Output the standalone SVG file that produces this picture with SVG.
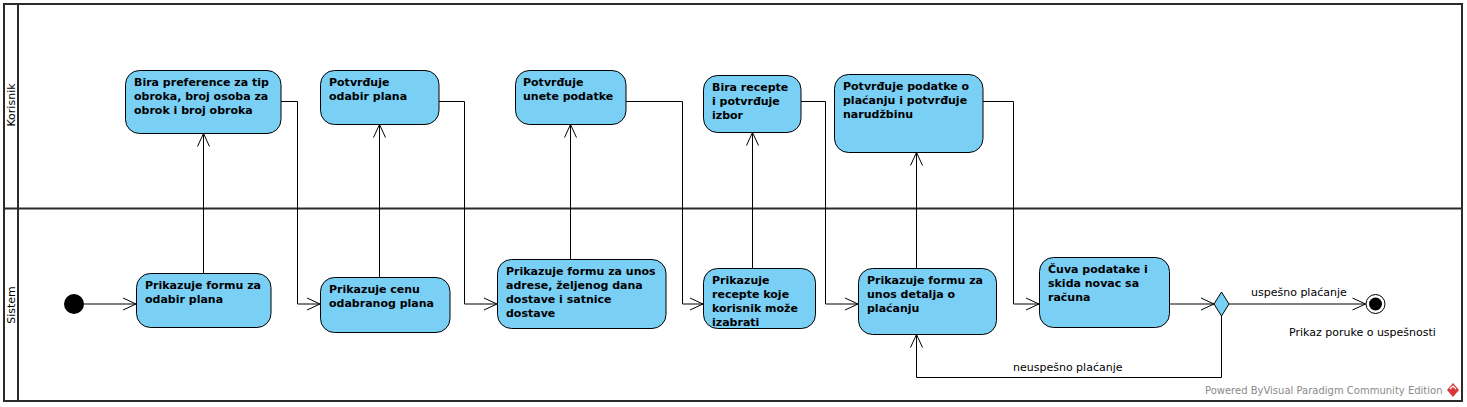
<svg xmlns="http://www.w3.org/2000/svg" width="1467" height="407" viewBox="0 0 1467 407">
<defs>
<style>
.frame{fill:none;stroke:#2b2b2b;stroke-width:2}
.act{fill:#7acff5;stroke:#000;stroke-width:1}
.t{font-family:"DejaVu Sans","Liberation Sans",sans-serif;font-size:11px;font-weight:bold;fill:#000}
.l{font-family:"DejaVu Sans","Liberation Sans",sans-serif;font-size:11px;fill:#000}
.wm{font-family:"DejaVu Sans","Liberation Sans",sans-serif;font-size:10px;fill:#8a8a8a}
.c{fill:none;stroke:#000;stroke-width:1}
</style>
<marker id="arr" markerUnits="userSpaceOnUse" markerWidth="15" markerHeight="14" refX="13" refY="6.5" orient="auto" overflow="visible">
<path d="M0,0.5 L13,6.5 L0,12.5" fill="none" stroke="#000" stroke-width="1"/>
</marker>
</defs>
<rect width="1467" height="407" fill="#fff"/>
<g id="lanes">
<rect class="frame" x="4" y="4" width="1458" height="397"/>
<line class="frame" x1="18" y1="4" x2="18" y2="401"/>
<line class="frame" x1="4" y1="208.5" x2="1462" y2="208.5"/>
<text class="l" text-anchor="middle" transform="translate(15,105) rotate(-90)">Korisnik</text>
<text class="l" text-anchor="middle" transform="translate(15,305) rotate(-90)">Sistem</text>
</g>
<g id="connectors">
<path class="c" d="M84,304 H136" marker-end="url(#arr)"/>
<path class="c" d="M203.5,273 V133.5" marker-end="url(#arr)"/>
<path class="c" d="M281,101.5 H297.5 V304 H320" marker-end="url(#arr)"/>
<path class="c" d="M379.5,277 V124.5" marker-end="url(#arr)"/>
<path class="c" d="M439,101.5 H464.5 V304 H497" marker-end="url(#arr)"/>
<path class="c" d="M570.5,259 V124.5" marker-end="url(#arr)"/>
<path class="c" d="M626,101.5 H682.5 V304 H703" marker-end="url(#arr)"/>
<path class="c" d="M752.5,268 V132.5" marker-end="url(#arr)"/>
<path class="c" d="M801,101.5 H825.5 V304 H858" marker-end="url(#arr)"/>
<path class="c" d="M916.5,268 V152.5" marker-end="url(#arr)"/>
<path class="c" d="M983,101.5 H1013.5 V304 H1039" marker-end="url(#arr)"/>
<path class="c" d="M1169,304 H1214" marker-end="url(#arr)"/>
<path class="c" d="M1229,304 H1365.5" marker-end="url(#arr)"/>
<path class="c" d="M1221.5,316 V377.5 H916.5 V334.5" marker-end="url(#arr)"/>
<text class="l" x="1251" y="296">uspešno plaćanje</text>
<text class="l" x="1013" y="371">neuspešno plaćanje</text>
</g>
<g id="n1">
<rect class="act" x="125.5" y="70.5" width="155.5" height="63" rx="14"/>
<text class="t" x="134" y="86">Bira preference za tip</text>
<text class="t" x="134" y="100">obroka, broj osoba za</text>
<text class="t" x="134" y="114">obrok i broj obroka</text>
</g>
<g id="n2">
<rect class="act" x="320.5" y="70.5" width="118.5" height="54" rx="14"/>
<text class="t" x="329" y="86">Potvrđuje</text>
<text class="t" x="329" y="100">odabir plana</text>
</g>
<g id="n3">
<rect class="act" x="515.5" y="70.5" width="110.5" height="54" rx="14"/>
<text class="t" x="523" y="86">Potvrđuje</text>
<text class="t" x="523" y="100">unete podatke</text>
</g>
<g id="n4">
<rect class="act" x="703.5" y="75.5" width="97.5" height="57" rx="14"/>
<text class="t" x="712" y="91">Bira recepte</text>
<text class="t" x="712" y="105">i potvrđuje</text>
<text class="t" x="712" y="119">izbor</text>
</g>
<g id="n5">
<rect class="act" x="834.5" y="74.5" width="148.5" height="78" rx="14"/>
<text class="t" x="843" y="90">Potvrđuje podatke o</text>
<text class="t" x="843" y="104">plaćanju i potvrđuje</text>
<text class="t" x="843" y="118">narudžbinu</text>
</g>
<g id="start">
<circle cx="74" cy="304" r="10" fill="#000"/>
</g>
<g id="n6">
<rect class="act" x="136.5" y="273.5" width="134.5" height="54" rx="14"/>
<text class="t" x="145" y="289">Prikazuje formu za</text>
<text class="t" x="145" y="303">odabir plana</text>
</g>
<g id="n7">
<rect class="act" x="320.5" y="277.5" width="129.5" height="55" rx="14"/>
<text class="t" x="329" y="293">Prikazuje cenu</text>
<text class="t" x="329" y="307">odabranog plana</text>
</g>
<g id="n8">
<rect class="act" x="497.5" y="259.5" width="168.5" height="69" rx="14"/>
<text class="t" x="506" y="275">Prikazuje formu za unos</text>
<text class="t" x="506" y="289">adrese, željenog dana</text>
<text class="t" x="506" y="303">dostave i satnice</text>
<text class="t" x="506" y="317">dostave</text>
</g>
<g id="n9">
<rect class="act" x="703.5" y="268.5" width="112" height="60" rx="14"/>
<text class="t" x="712" y="284">Prikazuje</text>
<text class="t" x="712" y="298">recepte koje</text>
<text class="t" x="712" y="312">korisnik može</text>
<text class="t" x="712" y="326">izabrati</text>
</g>
<g id="n10">
<rect class="act" x="858.5" y="268.5" width="138" height="66" rx="14"/>
<text class="t" x="867" y="284">Prikazuje formu za</text>
<text class="t" x="867" y="298">unos detalja o</text>
<text class="t" x="867" y="312">plaćanju</text>
</g>
<g id="n11">
<rect class="act" x="1039.5" y="257.5" width="130" height="70" rx="14"/>
<text class="t" x="1048" y="273">Čuva podatake i</text>
<text class="t" x="1048" y="287">skida novac sa</text>
<text class="t" x="1048" y="301">računa</text>
</g>
<g id="decision">
<polygon class="act" points="1221.5,292 1229,304 1221.5,316 1214,304"/>
</g>
<g id="end">
<circle cx="1375.5" cy="304" r="9.5" fill="#fff" stroke="#000" stroke-width="1"/>
<circle cx="1375.5" cy="304" r="6.5" fill="#000"/>
<text class="l" x="1289" y="336">Prikaz poruke o uspešnosti</text>
</g>
<g id="watermark">
<text class="wm" x="1205" y="394">Powered ByVisual Paradigm Community Edition</text>
<polygon points="1453,383 1459,390 1453,397 1447,390" fill="#d9383a"/>
<polyline points="1450,389 1453,386 1456,389" fill="none" stroke="#fff" stroke-width="1.2"/>
</g>
</svg>
